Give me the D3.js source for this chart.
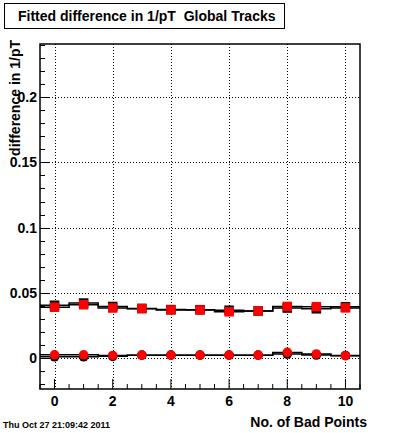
<!DOCTYPE html>
<html>
<head>
<meta charset="utf-8">
<script src="https://cdn.jsdelivr.net/npm/d3@7"></script>
<style>
  html, body { margin: 0; padding: 0; background: #fff; }
  svg { display: block; }
  text { font-family: "Liberation Sans", Arial, Helvetica, sans-serif; font-weight: bold; fill: #000; white-space: pre; }
</style>
</head>
<body>
<svg id="chart" width="400" height="433"></svg>
<script>
// ---- data ----
const bins = [0, 1, 2, 3, 4, 5, 6, 7, 8, 9, 10];
const squareBlack = [0.0406, 0.0423, 0.0397, 0.0382, 0.0373, 0.0372, 0.0368, 0.0362, 0.0385, 0.0379, 0.0394];
const squareRed   = [0.0391, 0.0410, 0.0385, 0.0380, 0.0370, 0.0370, 0.0356, 0.0362, 0.0397, 0.0395, 0.0386];
const circleBlack = [0.0012, 0.0012, 0.0015, 0.0024, 0.0024, 0.0024, 0.0024, 0.0024, 0.0033, 0.0025, 0.0021];
const circleRed   = [0.0027, 0.0027, 0.0022, 0.0024, 0.0024, 0.0024, 0.0024, 0.0024, 0.0045, 0.0033, 0.0020];
const xTicks = [0, 2, 4, 6, 8, 10];
const yTicks = [0, 0.05, 0.1, 0.15, 0.2];
const yTickLabels = ["0", "0.05", "0.1", "0.15", "0.2"];
const titleText = "Fitted difference in 1/pT  Global Tracks";
const xTitle = "No. of Bad Points";
const yTitle = "difference in 1/pT";
const dateText = "Thu Oct 27 21:09:42 2011";

// ---- layout ----
const svg = d3.select("#chart");
const L = 40, R = 360, T = 44, B = 389;
const x = d3.scaleLinear().domain([-0.5, 10.5]).range([L, R]);
const y = d3.scaleLinear().domain([-0.0235, 0.2406]).range([B, T]);

// grid
const grid = svg.append("g").attr("stroke", "#000").attr("stroke-width", 1).attr("stroke-dasharray", "1,2");
xTicks.forEach(t => grid.append("line").attr("x1", Math.round(x(t)) + 0.5).attr("x2", Math.round(x(t)) + 0.5).attr("y1", T).attr("y2", B));
yTicks.forEach(t => grid.append("line").attr("y1", Math.round(y(t)) + 0.5).attr("y2", Math.round(y(t)) + 0.5).attr("x1", L).attr("x2", R));

const axG = svg.append("g");
// x ticks pointing up
d3.range(-0.5, 10.51, 0.5).forEach(t => {
  const major = xTicks.includes(t);
  axG.append("line").attr("x1", x(t)).attr("x2", x(t)).attr("y1", B).attr("y2", B - (major ? 10 : 5)).attr("stroke", "#000").attr("stroke-width", 1);
});
// y ticks pointing right
d3.range(-0.02, 0.2401, 0.01).forEach(t => {
  const tt = Math.round(t * 100) / 100;
  const major = Math.abs(tt * 20 - Math.round(tt * 20)) < 1e-6;
  axG.append("line").attr("y1", Math.round(y(tt)) + 0.5).attr("y2", Math.round(y(tt)) + 0.5).attr("x1", L).attr("x2", L + (major ? 10 : 5)).attr("stroke", "#000").attr("stroke-width", 1);
});
// frame
svg.append("rect").attr("x", L).attr("y", T).attr("width", R - L).attr("height", B - T)
  .attr("fill", "none").attr("stroke", "#000").attr("stroke-width", 1.5);

// tick labels
xTicks.forEach(t => svg.append("text").attr("x", x(t)).attr("y", 406).attr("text-anchor", "middle").attr("font-size", 14).text(t));
yTicks.forEach((t, i) => svg.append("text").attr("x", 37).attr("y", y(t) + 5).attr("text-anchor", "end").attr("font-size", 14).text(yTickLabels[i]));

// step histograms
function stepPts(vals) {
  const pts = [];
  vals.forEach((v, i) => { pts.push([bins[i] - 0.5, v]); pts.push([bins[i] + 0.5, v]); });
  return pts;
}
const line = d3.line().x(d => x(d[0])).y(d => y(d[1]));
const dataG = svg.append("g");
[squareBlack, squareRed, circleBlack, circleRed].forEach(vals => {
  dataG.append("path").attr("d", line(stepPts(vals))).attr("fill", "none").attr("stroke", "#000").attr("stroke-width", 1.5);
});

// markers
const sq = 9.5, cr = 4.8;
dataG.selectAll(".sqB").data(bins).enter().append("rect")
  .attr("x", d => x(d) - sq / 2).attr("y", (d, i) => y(squareBlack[i]) - sq / 2).attr("width", sq).attr("height", sq).attr("fill", "#000");
dataG.selectAll(".ciB").data(bins).enter().append("circle")
  .attr("cx", d => x(d)).attr("cy", (d, i) => y(circleBlack[i])).attr("r", cr).attr("fill", "#000");
dataG.selectAll(".sqR").data(bins).enter().append("rect")
  .attr("x", d => x(d) - sq / 2).attr("y", (d, i) => y(squareRed[i]) - sq / 2).attr("width", sq).attr("height", sq).attr("fill", "#ff0000");
dataG.selectAll(".ciR").data(bins).enter().append("circle")
  .attr("cx", d => x(d)).attr("cy", (d, i) => y(circleRed[i])).attr("r", cr).attr("fill", "#ff0000");

// title box
svg.append("rect").attr("x", 4.5).attr("y", 3.5).attr("width", 280).attr("height", 25).attr("fill", "#fff").attr("stroke", "#000").attr("stroke-width", 1);
svg.append("text").attr("x", 18).attr("y", 21).attr("font-size", 14).text(titleText);

// axis titles
svg.append("text").attr("x", 367).attr("y", 427).attr("text-anchor", "end").attr("font-size", 14).text(xTitle);
svg.append("text").attr("transform", "translate(20,40) rotate(-90)").attr("text-anchor", "end").attr("font-size", 14).text(yTitle);

// date
svg.append("text").attr("x", 3).attr("y", 428).attr("font-size", 9).text(dateText);
</script>
</body>
</html>
